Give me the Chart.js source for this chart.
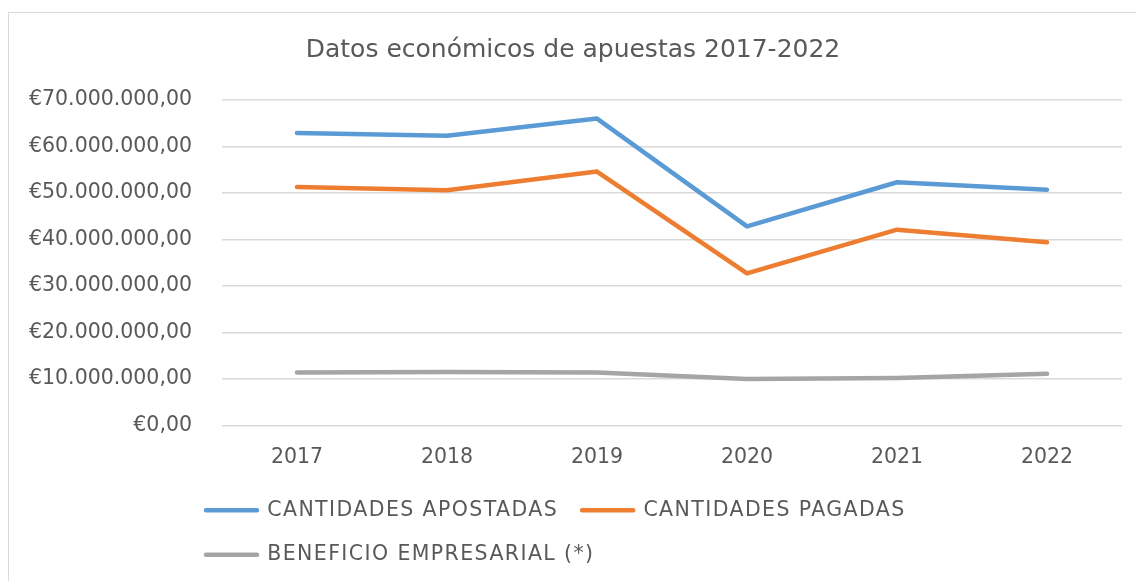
<!DOCTYPE html>
<html>
<head>
<meta charset="utf-8">
<script src="https://cdn.jsdelivr.net/npm/chart.js@4"></script>
<style>
  html, body { margin: 0; padding: 0; background: #fff; overflow: hidden; }
  #wrap { position: absolute; left: 0; top: 0; width: 1136px; height: 581px; }
  #frame { position: absolute; left: 8px; top: 12px; width: 1140px; height: 600px; border: 1px solid #d9d9d9; pointer-events: none; }
</style>
</head>
<body>
<div id="wrap"><canvas id="chart" width="1136" height="581"></canvas></div>
<div id="frame"></div>
<script>
const years = ["2017", "2018", "2019", "2020", "2021", "2022"];
const apostadas = [62900000, 62300000, 66000000, 42800000, 52300000, 50700000];
const pagadas = [51300000, 50600000, 54600000, 32700000, 42100000, 39400000];
const beneficio = [11400000, 11500000, 11400000, 10000000, 10200000, 11100000];

const textColor = "#595959";
const fontFamily = "'DejaVu Sans', sans-serif";

function euro(v) {
  const s = Math.round(v).toString().replace(/\B(?=(\d{3})+(?!\d))/g, ".");
  return "€" + s + ",00";
}

function series(label, data, color) {
  return {
    label: label,
    data: data,
    borderColor: color,
    backgroundColor: color,
    borderWidth: 4.5,
    borderCapStyle: "round",
    borderJoinStyle: "round",
    pointRadius: 0,
    fill: false,
    tension: 0
  };
}

// wider legend text (the original font is a wide one) and the legend / title
// nudged to sit where they are in the original
function spaced(fn, ctx) {
  return function () {
    const old = ctx.letterSpacing;
    ctx.letterSpacing = "1.4px";
    const r = fn.apply(this, arguments);
    ctx.letterSpacing = old;
    return r;
  };
}
const tweaks = {
  id: "tweaks",
  beforeLayout(chart) {
    const lg = chart.legend;
    if (lg && !lg._spaced) {
      lg._spaced = true;
      lg.fit = spaced(lg.fit, chart.ctx);
      lg.draw = spaced(lg.draw, chart.ctx);
    }
  },
  afterLayout(chart) {
    const lg = chart.legend;
    if (lg) { lg.left -= 40; lg.right -= 40; }
    const t = chart.titleBlock;
    if (t) { t.left += 12; t.right += 12; }
  }
};

const ctx = document.getElementById("chart").getContext("2d");
new Chart(ctx, {
  type: "line",
  data: {
    labels: years,
    datasets: [
      series("CANTIDADES APOSTADAS", apostadas, "#5B9BD5"),
      series("CANTIDADES PAGADAS", pagadas, "#ED7D31"),
      series("BENEFICIO EMPRESARIAL (*)", beneficio, "#A5A5A5")
    ]
  },
  plugins: [tweaks],
  options: {
    responsive: false,
    animation: false,
    layout: { padding: { left: 0, right: 14, top: 0, bottom: 6 } },
    plugins: {
      title: {
        display: true,
        text: "Datos económicos de apuestas 2017-2022",
        color: textColor,
        font: { family: fontFamily, size: 25, weight: "normal" },
        padding: { top: 35, bottom: 35 }
      },
      legend: {
        position: "bottom",
        align: "start",
        fullSize: false,
        labels: {
          color: textColor,
          font: { family: fontFamily, size: 20.5 },
          boxWidth: 51,
          boxHeight: 0,
          padding: 24
        }
      },
      tooltip: { enabled: false }
    },
    scales: {
      x: {
        offset: true,
        afterFit: function (scale) { scale.height -= 14; },
        grid: { display: false, drawTicks: false },
        border: { display: false },
        ticks: {
          color: textColor,
          font: { family: fontFamily, size: 20.5 },
          padding: 20
        }
      },
      y: {
        min: 0,
        max: 70000000,
        afterFit: function (scale) { scale.width = 222; },
        grid: { color: "#d9d9d9", lineWidth: 1.5, drawTicks: false },
        border: { display: false },
        ticks: {
          stepSize: 10000000,
          color: textColor,
          font: { family: fontFamily, size: 20.5 },
          padding: 30,
          callback: function (v) { return euro(v); }
        }
      }
    }
  }
});
</script>
</body>
</html>
